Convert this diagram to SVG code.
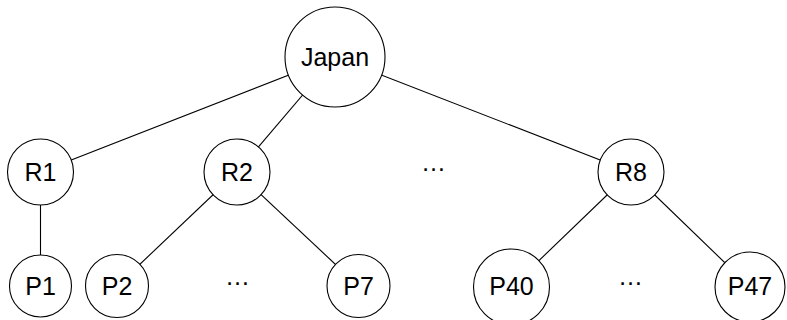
<svg xmlns="http://www.w3.org/2000/svg" width="787" height="320" viewBox="0 0 787 320">
  <style>
    .node { fill: #ffffff; stroke: #000000; stroke-width: 1.1; }
    .label { font-family: "Liberation Sans", Arial, sans-serif; font-size: 25px; fill: #000000; text-anchor: middle; }
    .edge { stroke: #000000; stroke-width: 1.1; fill: none; }
  </style>
  <rect width="787" height="320" fill="#ffffff"/>
  <!-- tree edges, drawn centre to centre beneath the nodes -->
  <g id="connectors">
    <line class="edge" x1="335" y1="57" x2="40.5" y2="172"/>
    <line class="edge" x1="335" y1="57" x2="237" y2="172"/>
    <line class="edge" x1="335" y1="57" x2="631" y2="172"/>
    <line class="edge" x1="40.5" y1="172" x2="40.5" y2="286"/>
    <line class="edge" x1="237" y1="172" x2="117" y2="286"/>
    <line class="edge" x1="237" y1="172" x2="358.5" y2="286"/>
    <line class="edge" x1="631" y1="172" x2="511.5" y2="287"/>
    <line class="edge" x1="631" y1="172" x2="750" y2="287"/>
  </g>
  <g id="japan">
    <circle class="node" cx="335" cy="57" r="50"/>
    <text class="label" x="335" y="66">Japan</text>
  </g>
  <g id="r1">
    <circle class="node" cx="40.5" cy="172" r="33"/>
    <text class="label" x="40.5" y="181">R1</text>
  </g>
  <g id="r2">
    <circle class="node" cx="237" cy="172" r="33"/>
    <text class="label" x="237" y="181">R2</text>
  </g>
  <g id="r-dots">
    <text class="label" x="433.5" y="171">…</text>
  </g>
  <g id="r8">
    <circle class="node" cx="631" cy="172" r="33"/>
    <text class="label" x="631" y="181">R8</text>
  </g>
  <g id="p1">
    <circle class="node" cx="40.5" cy="286" r="31"/>
    <text class="label" x="40.5" y="295">P1</text>
  </g>
  <g id="p2">
    <circle class="node" cx="117" cy="286" r="31.5"/>
    <text class="label" x="117" y="295">P2</text>
  </g>
  <g id="p-dots-a">
    <text class="label" x="237.5" y="285">…</text>
  </g>
  <g id="p7">
    <circle class="node" cx="358.5" cy="286" r="31.5"/>
    <text class="label" x="358.5" y="295">P7</text>
  </g>
  <g id="p40">
    <circle class="node" cx="511.5" cy="287" r="38"/>
    <text class="label" x="511.5" y="295">P40</text>
  </g>
  <g id="p-dots-b">
    <text class="label" x="630.5" y="285">…</text>
  </g>
  <g id="p47">
    <circle class="node" cx="750" cy="287" r="35"/>
    <text class="label" x="750" y="295">P47</text>
  </g>
</svg>
